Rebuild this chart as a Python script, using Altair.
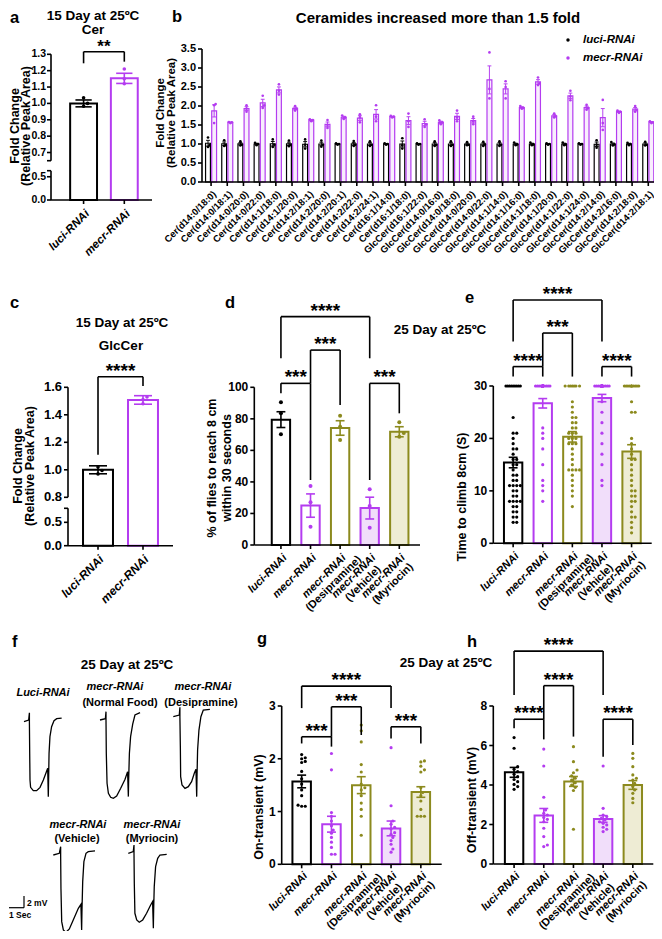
import altair as alt
import pandas as pd

# ---------------- values ----------------
A_GROUPS = ["luci-RNAi", "mecr-RNAi"]
A_MEAN = [1.000, 1.153]
A_SEM = [0.021, 0.031]
A_POINTS = [[1.034, 1.000, 0.983], [1.210, 1.150, 1.120]]

C_GROUPS = ["luci-RNAi", "mecr-RNAi"]
C_MEAN = [1.000, 1.508]
C_SEM = [0.029, 0.031]
C_POINTS = [[1.020, 0.995, 0.970], [1.530, 1.510, 1.480]]

B_LIPIDS = [
    "Cer(d14:0/18:0)", "Cer(d14:0/18:1)", "Cer(d14:0/20:0)", "Cer(d14:0/22:0)",
    "Cer(d14:1/18:0)", "Cer(d14:1/20:0)", "Cer(d14:2/18:1)", "Cer(d14:2/20:0)",
    "Cer(d14:2/20:1)", "Cer(d14:2/22:0)", "Cer(d14:2/24:1)", "Cer(d16:1/14:0)",
    "Cer(d16:1/18:0)", "GlcCer(d16:1/22:0)", "GlcCer(d14:0/16:0)", "GlcCer(d14:0/18:0)",
    "GlcCer(d14:0/20:0)", "GlcCer(d14:0/22:0)", "GlcCer(d14:1/14:0)", "GlcCer(d14:1/16:0)",
    "GlcCer(d14:1/18:0)", "GlcCer(d14:1/20:0)", "GlcCer(d14:1/22:0)", "GlcCer(d14:1/24:0)",
    "GlcCer(d14:2/14:0)", "GlcCer(d14:2/16:0)", "GlcCer(d14:2/18:0)", "GlcCer(d14:2/18:1)",
]
B_SERIES = ["luci-RNAi", "mecr-RNAi"]
B_LUCI = [
    [1.17, 0.97, 0.92], [1.10, 0.97, 0.95], [1.07, 0.98, 0.96], [1.03, 1.00, 0.97],
    [1.12, 0.98, 0.92], [1.09, 0.98, 0.94], [1.12, 0.98, 0.88], [1.09, 0.98, 0.93],
    [1.02, 1.00, 0.98], [1.08, 0.98, 0.95], [1.07, 0.98, 0.95], [1.02, 1.00, 0.98],
    [1.15, 0.97, 0.88], [1.02, 1.00, 0.98], [1.07, 0.98, 0.95], [1.07, 0.98, 0.95],
    [1.05, 0.98, 0.97], [1.06, 0.99, 0.95], [1.07, 0.98, 0.95], [1.04, 0.99, 0.97],
    [1.04, 0.99, 0.97], [1.02, 1.00, 0.98], [1.04, 0.99, 0.97], [1.02, 1.00, 0.98],
    [1.10, 0.98, 0.90], [1.05, 0.99, 0.96], [1.03, 1.00, 0.97], [1.06, 0.98, 0.96],
]
B_MECR = [
    [2.05, 2.02, 1.55], [1.58, 1.57, 1.55], [2.02, 1.93, 1.85], [2.27, 2.02, 1.95],
    [2.57, 2.40, 2.30], [2.00, 1.93, 1.88], [1.65, 1.63, 1.60], [1.63, 1.50, 1.42],
    [1.75, 1.70, 1.66], [1.78, 1.70, 1.57], [2.02, 1.72, 1.60], [1.74, 1.72, 1.70],
    [1.80, 1.60, 1.45], [1.65, 1.52, 1.45], [1.62, 1.57, 1.52], [1.88, 1.70, 1.60],
    [1.72, 1.60, 1.52], [3.41, 2.45, 2.20], [2.65, 2.50, 2.20], [2.00, 1.95, 1.93],
    [2.75, 2.60, 2.55], [1.80, 1.73, 1.70], [2.40, 2.25, 2.15], [2.03, 1.95, 1.90],
    [2.16, 1.55, 1.37], [1.88, 1.85, 1.82], [2.00, 1.90, 1.85], [1.60, 1.57, 1.55],
]

TREAT_LINE1 = ["luci-RNAi", "mecr-RNAi", "mecr-RNAi", "mecr-RNAi", "mecr-RNAi"]
TREAT_LINE2 = ["", "", "(Desipramine)", "(Vehicle)", "(Myriocin)"]

D_MEAN = [79.5, 25.0, 74.2, 23.4, 71.8]
D_SEM = [5.0, 7.4, 4.6, 6.9, 3.2]
D_POINTS = [[90.5, 83.5, 70.2], [37.4, 27.1, 11.6], [82.0, 75.0, 66.6],
            [35.3, 24.7, 11.0], [77.8, 71.0, 68.7]]
D_COMPARE = [(0, 3, "****"), (1, 2, "***"), (0, 1, "***"), (3, 4, "***")]

E_MEAN = [15.4, 26.7, 20.3, 27.7, 17.5]
E_SEM = [1.0, 0.9, 1.0, 0.7, 1.3]
E_POINTS = [
    [30, 30, 30, 30, 30, 30, 30, 30, 30, 24, 21, 21, 20, 19, 18, 18, 17, 16, 16, 15, 15,
     14, 13, 13, 12, 12, 11, 11, 11, 11, 10, 10, 9, 9, 8, 8, 8, 8, 7, 7, 6, 6, 5, 5, 4, 4],
    [30, 30, 30, 30, 30, 30, 30, 30, 30, 30, 30, 30, 30, 30, 30, 30, 30, 30, 30, 30, 30,
     30, 30, 30, 30, 30, 30, 30, 30, 30, 30, 22, 21, 20, 18, 15, 12, 11, 10, 8],
    [30, 30, 30, 30, 30, 30, 30, 27, 26, 25, 24, 24, 23, 23, 22, 22, 21, 21, 21, 20, 20,
     20, 19, 19, 19, 18, 17, 16, 15, 14, 14, 14, 14, 13, 12, 11, 10, 9, 7],
    [30, 30, 30, 30, 30, 30, 30, 30, 30, 30, 30, 30, 30, 30, 30, 30, 30, 30, 30, 30, 30,
     30, 30, 30, 30, 30, 30, 30, 30, 30, 30, 30, 30, 30, 27, 25, 23, 21, 19, 17, 15, 12, 11],
    [30, 30, 30, 30, 30, 30, 30, 30, 30, 30, 30, 27, 25, 25, 20, 19, 18, 17, 16, 16, 15,
     14, 13, 12, 11, 10, 10, 9, 9, 8, 8, 7, 6, 5, 5, 4, 3, 2],
]
E_COMPARE = [(0, 3, "****"), (1, 2, "***"), (0, 1, "****"), (3, 4, "****")]

G_MEAN = [1.57, 0.76, 1.50, 0.68, 1.37]
G_SEM = [0.12, 0.15, 0.16, 0.14, 0.10]
G_POINTS = [
    [2.08, 2.02, 2.00, 1.95, 1.93, 1.76, 1.62, 1.52, 1.41, 1.30, 1.12, 1.10, 1.10],
    [2.10, 1.79, 0.98, 0.91, 0.82, 0.73, 0.65, 0.59, 0.51, 0.42, 0.32, 0.19, 0.19],
    [2.64, 2.53, 2.32, 1.89, 1.75, 1.52, 1.45, 1.41, 1.30, 1.16, 1.04, 0.91, 0.55],
    [2.21, 1.11, 0.82, 0.76, 0.70, 0.67, 0.60, 0.57, 0.51, 0.45, 0.38, 0.29, 0.23],
    [1.96, 1.94, 1.86, 1.79, 1.75, 1.45, 1.36, 1.30, 1.20, 1.04, 0.91, 0.91, 0.91],
]
G_COMPARE = [(0, 3, "****"), (1, 2, "***"), (0, 1, "***"), (3, 4, "***")]

H_MEAN = [4.64, 2.46, 4.18, 2.28, 4.00]
H_SEM = [0.25, 0.35, 0.25, 0.17, 0.22]
H_POINTS = [
    [6.40, 5.86, 4.93, 4.80, 4.68, 4.55, 4.42, 4.28, 4.17, 4.03, 3.92, 3.78],
    [5.82, 4.96, 3.38, 2.74, 2.57, 2.48, 2.36, 2.26, 2.14, 1.81, 1.39, 0.96, 0.88],
    [5.94, 5.18, 4.76, 4.62, 4.46, 4.34, 4.25, 4.12, 4.00, 3.88, 3.72, 1.76],
    [4.96, 2.82, 2.48, 2.40, 2.31, 2.23, 2.14, 2.06, 1.98, 1.86, 1.76, 1.64],
    [5.60, 5.35, 4.93, 4.51, 4.34, 4.25, 4.08, 3.92, 3.75, 3.58, 3.32, 3.10],
]
H_COMPARE = [(0, 3, "****"), (1, 2, "****"), (0, 1, "****"), (3, 4, "****")]

# ERG traces (time in s, voltage in mV)
F_T = [
    [0, .31, .36, .36, .38, .40, .44, .62, .84, 1.07, 1.29, 1.47, 1.58, 1.62, 1.64, 1.67, 1.73, 1.84, 2.0, 2.18, 2.51],
    [0, .36, .40, .40, .42, .47, .56, .71, .89, 1.11, 1.38, 1.67, 1.84, 1.89, 1.91, 1.96, 2.04, 2.18, 2.33, 2.67],
    [0, .40, .44, .44, .47, .49, .58, .78, 1.0, 1.22, 1.40, 1.51, 1.56, 1.58, 1.62, 1.71, 1.84, 2.0, 2.44],
    [0, .40, .49, .49, .51, .56, .67, .84, 1.07, 1.33, 1.67, 1.84, 1.89, 1.91, 1.96, 2.04, 2.18, 2.33, 2.78],
    [0, .33, .38, .38, .40, .44, .56, .73, .96, 1.22, 1.49, 1.62, 1.67, 1.69, 1.73, 1.82, 1.96, 2.11, 2.56],
]
F_V = [
    [0, .29, 1.54, 0, -5.43, -10.0, -11.26, -11.83, -11.83, -11.26, -10.0, -8.74, -8.0, -12.86, -10.0, -5.43, -2.57, -0.86, 0.17, 0.51, 0.63],
    [0, .23, 1.43, 0, -5.71, -10.86, -12.57, -13.26, -13.43, -13.03, -11.71, -10.17, -8.86, -13.14, -10.29, -5.71, -2.86, -0.69, 0.86, 1.26],
    [0, .29, 1.6, 0, -5.14, -10.29, -11.71, -12.29, -12.0, -11.14, -9.71, -9.03, -13.71, -10.29, -5.71, -2.29, 0, 1.14, 1.26],
    [0, .29, 1.43, 0, -5.71, -11.43, -12.86, -13.26, -12.69, -11.14, -9.14, -8.46, -12.86, -9.71, -4.57, -1.14, .29, .57, .69],
    [0, .29, 1.43, 0, -5.14, -10.29, -11.43, -11.83, -11.43, -10.29, -8.86, -8.29, -12.86, -9.71, -5.71, -2.29, -0.86, -0.29, -0.17],
]
F_SCALEBAR_S, F_SCALEBAR_MV = 1, 2

# ---------------- style / layout ----------------
FONT = "Liberation Sans"
BLACK, PURPLE, OLIVE = "#000000", "#B43CF0", "#8C8A1E"
LAV, LOLIVE, BFILL, WHITE = "#F1DEFA", "#EEECD4", "#F8EEFD", "#FFFFFF"
W, H, M = 646, 923, 8
T_STROKE = [BLACK, PURPLE, OLIVE, PURPLE, OLIVE]
T_FILL = [WHITE, WHITE, WHITE, LAV, LOLIVE]


def P(v):
    return v - M


def lin(domain, rng):
    s = alt.Scale(domain=list(domain), range=[P(r) for r in rng], nice=False, zero=False)
    ppu = abs(rng[-1] - rng[-2]) / abs(domain[-1] - domain[-2])
    return s, ppu


def X(f, xs):
    return alt.X(f, scale=xs, axis=None)


def Y(f, ys):
    return alt.Y(f, scale=ys, axis=None)


def axes_layers(xs, ys, xdom, ysegs, yticks, ylabels, xticks, ysize=12, tick=5, ldx=-7, sw=1.6):
    xa, xe = xdom
    ya = ysegs[0][0]
    out = []
    seg = pd.DataFrame({"xa": [xa] * len(ysegs), "y0": [s[0] for s in ysegs],
                        "y1": [s[1] for s in ysegs]})
    out.append(alt.Chart(seg).mark_rule(color=BLACK, strokeWidth=sw).encode(
        x=X("xa:Q", xs), y=Y("y0:Q", ys), y2="y1"))
    yt = pd.DataFrame({"xa": [xa] * len(yticks), "v": yticks, "lab": ylabels})
    out.append(alt.Chart(yt).mark_rule(color=BLACK, strokeWidth=sw, x2Offset=-tick).encode(
        x=X("xa:Q", xs), x2="xa", y=Y("v:Q", ys)))
    out.append(alt.Chart(yt).mark_text(font=FONT, fontSize=ysize, fontWeight="bold", align="right",
                                       baseline="middle", dx=ldx, color=BLACK).encode(
        x=X("xa:Q", xs), y=Y("v:Q", ys), text="lab:N"))
    xl = pd.DataFrame({"x0": [xa], "x1": [xe], "ya": [ya]})
    out.append(alt.Chart(xl).mark_rule(color=BLACK, strokeWidth=sw).encode(
        x=X("x0:Q", xs), x2="x1", y=Y("ya:Q", ys)))
    xt = pd.DataFrame({"c": xticks, "ya": [ya] * len(xticks)})
    out.append(alt.Chart(xt).mark_rule(color=BLACK, strokeWidth=sw, y2Offset=tick).encode(
        x=X("c:Q", xs), y=Y("ya:Q", ys), y2="ya"))
    return out


def swarm(vals, ppy, dot, maxw):
    order = sorted(range(len(vals)), key=lambda k: vals[k])
    step = dot / 2.0
    cands = [0.0]
    for s in range(1, int(maxw // step) + 1):
        cands += [s * step, -s * step]
    placed, res = [], [0.0] * len(vals)
    for k in order:
        y = vals[k] * ppy
        best, bestd = 0.0, -1.0
        for c in cands:
            d = min([((c - px) ** 2 + (y - py) ** 2) ** 0.5 for py, px in placed] or [1e9])
            if d >= dot:
                best = c
                break
            if d > bestd:
                best, bestd = c, d
        placed.append((y, best))
        res[k] = best
    return res


def bar_layers(pos, means, sems, points, strokes, fills, xs, ppx, ys, ppy,
               half, cap, dot, maxw, sw, psize):
    bars = pd.DataFrame({"c": pos, "m": means, "s": sems, "st": strokes, "fi": fills})
    bars["x0"] = bars.c - half
    bars["x1"] = bars.c + half
    bars["z"] = 0.0
    bars["lo"] = bars.m - bars.s
    bars["hi"] = bars.m + bars.s
    bars["k0"] = bars.c - cap
    bars["k1"] = bars.c + cap
    rows = []
    for c, vals, st in zip(pos, points, strokes):
        for v, o in zip(vals, swarm(vals, ppy, dot, maxw)):
            rows.append({"px": c + o / ppx, "v": v, "st": st})
    pts = pd.DataFrame(rows)
    col = alt.Color("st:N", scale=None)
    rect = alt.Chart(bars).mark_rect(strokeWidth=sw).encode(
        x=X("x0:Q", xs), x2="x1", y=Y("m:Q", ys), y2="z",
        fill=alt.Fill("fi:N", scale=None), stroke=alt.Stroke("st:N", scale=None))
    dots = alt.Chart(pts).mark_circle(size=psize, opacity=1).encode(
        x=X("px:Q", xs), y=Y("v:Q", ys), color=col)
    err = alt.Chart(bars).mark_rule(strokeWidth=sw * 0.8).encode(
        x=X("c:Q", xs), y=Y("lo:Q", ys), y2="hi", color=col)
    caps = [alt.Chart(bars).mark_rule(strokeWidth=sw * 0.8).encode(
        x=X("k0:Q", xs), x2="k1", y=Y(f + ":Q", ys), color=col) for f in ("lo", "hi")]
    return [rect, dots, err] + caps


def bracket_layers(comps, levels, xs, ys, size=19, sw=1.6):
    rows = []
    for (i, j, s), (lv, li, lj) in zip(comps, levels):
        rows.append({"a": i, "b": j, "mid": (i + j) / 2, "lv": lv, "li": li, "lj": lj, "s": s})
    base = alt.Chart(pd.DataFrame(rows))
    r = dict(color=BLACK, strokeWidth=sw)
    return [
        base.mark_rule(**r).encode(x=X("a:Q", xs), x2="b", y=Y("lv:Q", ys)),
        base.mark_rule(**r).encode(x=X("a:Q", xs), y=Y("lv:Q", ys), y2="li"),
        base.mark_rule(**r).encode(x=X("b:Q", xs), y=Y("lv:Q", ys), y2="lj"),
        base.mark_text(font=FONT, fontSize=size, fontWeight="bold", baseline="alphabetic",
                       color=BLACK).encode(x=X("mid:Q", xs), y=Y("lv:Q", ys), text="s:N"),
    ]


def tick_labels(line1, line2, xs, y_ref, size=11.5, w1=54, italic=True):
    df = pd.DataFrame({"c": list(range(len(line1))), "l1": line1, "l2": line2})
    base = alt.Chart(df).encode(x=X("c:Q", xs), y=alt.value(P(y_ref)))
    st = dict(font=FONT, fontSize=size, fontWeight="bold", color=BLACK, angle=315, baseline="top")
    out = [base.mark_text(fontStyle="italic" if italic else "normal", align="right", **st)
           .encode(text="l1:N")]
    if any(line2):
        out.append(base.mark_text(align="center", dx=-w1 / 2, dy=size + 1, **st).encode(text="l2:N"))
    return out


def texts(items, size=13, italic=False, angle=0, align="center", baseline="middle"):
    df = pd.DataFrame(items, columns=["t", "x", "y"])
    df["x"] = df.x - M
    df["y"] = df.y - M
    return alt.Chart(df).mark_text(
        font=FONT, fontSize=size, fontWeight="bold", fontStyle="italic" if italic else "normal",
        angle=angle, align=align, baseline=baseline, color=BLACK).encode(
        x=alt.X("x:Q", scale=None, axis=None), y=alt.Y("y:Q", scale=None, axis=None), text="t:N")


def fmt(vals, f):
    return [format(v, f) for v in vals]


layers = []

# ---------------- panel a ----------------
xdom = [-0.8, 1.68]
xs, ppx = lin(xdom, [51, 152])
ys, ppy = lin([0, 0.63, 0.65, 1.3], [200, 170.7, 160.7, 54.3])
ya_ticks = [0, 0.5, 0.63, 0.65, 0.7, 0.8, 0.9, 1.0, 1.1, 1.2, 1.3]
ya_labels = ["" if v in (0.63, 0.65) else format(v, ".1f") for v in ya_ticks]
pa = bar_layers([0, 1], A_MEAN, A_SEM, A_POINTS, [BLACK, PURPLE], [WHITE, WHITE], xs, ppx, ys, ppy,
                0.33, 0.2, 4, 8, 2, 13)
pa += axes_layers(xs, ys, xdom, [(0, 0.63), (0.65, 1.3)], ya_ticks, ya_labels, [0, 1],
                  ysize=10.5, tick=4, ldx=-5)
pa += bracket_layers([(0, 1, "**")], [(1.316, 1.245, 1.255)], xs, ys, size=17)
pa += tick_labels(A_GROUPS, ["", ""], xs, 208)
layers.append(alt.layer(*pa))

# ---------------- panel b ----------------
nb = len(B_LIPIDS)
xdom = [-0.56, 27.6]
xs, ppx = lin(xdom, [202, 658])
ys, ppy = lin([0, 3.5], [182, 49])
b_pts = B_LUCI + B_MECR
b_mean = [sum(p) / len(p) for p in b_pts]
b_sem = [(sum((v - m) ** 2 for v in p) / (len(p) - 1)) ** 0.5 / len(p) ** 0.5
         for p, m in zip(b_pts, b_mean)]
b_pos = [i - 0.19 for i in range(nb)] + [i + 0.19 for i in range(nb)]
pb = bar_layers(b_pos, b_mean, b_sem, b_pts, [BLACK] * nb + [PURPLE] * nb,
                [WHITE] * nb + [BFILL] * nb, xs, ppx, ys, ppy, 0.15, 0.12, 3, 2.5, 1.2, 7)
yb_ticks = [0, 0.5, 1.0, 1.5, 2.0, 2.5, 3.0, 3.5]
pb += axes_layers(xs, ys, xdom, [(0, 3.5)], yb_ticks, fmt(yb_ticks, ".1f"), list(range(nb)),
                  ysize=11, tick=4, ldx=-6)
pb += tick_labels(B_LIPIDS, [""] * nb, xs, 189, size=9.5, italic=False)
layers.append(alt.layer(*pb))
leg = pd.DataFrame({"t": B_SERIES, "col": [BLACK, PURPLE]})
leg["x"] = P(568)
leg["y"] = [P(40), P(58)]
layers.append(alt.Chart(leg).mark_circle(size=12, opacity=1).encode(
    x=alt.X("x:Q", scale=None, axis=None), y=alt.Y("y:Q", scale=None, axis=None),
    color=alt.Color("col:N", scale=None)))
layers.append(texts([(B_SERIES[0], 583, 40), (B_SERIES[1], 583, 58)], size=11.5, italic=True,
                    align="left"))

# ---------------- panel c ----------------
xdom = [-0.667, 1.667]
xs, ppx = lin(xdom, [68, 173])
ys, ppy = lin([0, 0.7999, 0.8, 1.6], [545.7, 508.3, 497.3, 387.3])
yc_ticks = [0, 0.5, 0.7999, 0.8, 1.0, 1.2, 1.4, 1.6]
yc_labels = ["" if v == 0.7999 else format(v, ".1f") for v in yc_ticks]
pc = bar_layers([0, 1], C_MEAN, C_SEM, C_POINTS, [BLACK, PURPLE], [WHITE, WHITE], xs, ppx, ys, ppy,
                0.333, 0.2, 4, 8, 2, 13)
pc += axes_layers(xs, ys, xdom, [(0, 0.7999), (0.8, 1.6)], yc_ticks, yc_labels, [0, 1],
                  ysize=13, tick=4, ldx=-6)
pc += bracket_layers([(0, 1, "****")], [(1.677, 1.109, 1.61)], xs, ys)
pc += tick_labels(C_GROUPS, ["", ""], xs, 553.7, size=12)
layers.append(alt.layer(*pc))

# ---------------- panels d, e, g, h ----------------
treat_panels = [
    # (xdom, xrange, ydom, yrange, mean, sem, points, yticks, compare, levels, dot, maxw, psize, label_y)
    ([-0.9, 4.7], [254.3, 420], [0, 100], [545, 387.3], D_MEAN, D_SEM, D_POINTS,
     [0, 20, 40, 60, 80, 100], D_COMPARE,
     [(144.8, 118.4, 118.4), (123.6, 102.5, 88.8), (102.5, 96.2, 41.2), (102.5, 41.2, 83.5)],
     4.5, 8, 16, 552),
    ([-0.67, 4.68], [493.3, 651.7], [0, 30], [543.3, 386], E_MEAN, E_SEM, E_POINTS,
     [0, 10, 20, 30], E_COMPARE,
     [(46.4, 38.5, 38.5), (40.1, 33.7, 31.8), (33.7, 31.8, 31.8), (33.7, 31.8, 31.8)],
     3.6, 9, 10, 550.3),
    ([-0.67, 4.7], [281.7, 441.7], [0, 3], [864.3, 706], G_MEAN, G_SEM, G_POINTS,
     [0, 1, 2, 3], G_COMPARE,
     [(3.377, 2.96, 2.96), (2.985, 2.417, 2.45), (2.417, 2.29, 2.23), (2.606, 2.386, 2.29)],
     3.6, 8, 10, 870),
    ([-0.7, 4.69], [493.3, 653.3], [0, 8], [864, 706], H_MEAN, H_SEM, H_POINTS,
     [0, 2, 4, 6, 8], H_COMPARE,
     [(10.78, 8.56, 8.56), (9.03, 7.33, 6.45), (7.33, 6.87, 6.31), (7.33, 5.43, 6.03)],
     3.6, 8, 10, 870),
]
for (xdom, xr, ydom, yr, mean, sem, pts, yt, comp, lev, dot, maxw, psize, ly) in treat_panels:
    xs, ppx = lin(xdom, xr)
    ys, ppy = lin(ydom, yr)
    pl = bar_layers(list(range(5)), mean, sem, pts, T_STROKE, T_FILL, xs, ppx, ys, ppy,
                    0.31, 0.15, dot, maxw, 2, psize)
    pl += axes_layers(xs, ys, xdom, [tuple(ydom)], yt, [str(v) for v in yt], list(range(5)),
                      tick=4, ldx=-6)
    pl += bracket_layers(comp, lev, xs, ys)
    pl += tick_labels(TREAT_LINE1, TREAT_LINE2, xs, ly, size=11)
    layers.append(alt.layer(*pl))

# ---------------- panel f (ERG traces) ----------------
PX_S, PX_MV = 15.0, 5.83
origins = [(24, 721.7), (100, 720), (173.3, 716.7), (53.3, 855), (128.3, 853.3)]
for t, v, (x0, y0) in zip(F_T, F_V, origins):
    df = pd.DataFrame({"k": list(range(len(t))), "t": t, "v": v})
    sx = alt.Scale(domain=[0, 3], range=[P(x0), P(x0) + 3 * PX_S], nice=False, zero=False)
    sy = alt.Scale(domain=[-14, 2], range=[P(y0) + 14 * PX_MV, P(y0) - 2 * PX_MV], nice=False,
                   zero=False)
    layers.append(alt.Chart(df).mark_line(color=BLACK, strokeWidth=1.3).encode(
        x=alt.X("t:Q", scale=sx, axis=None), y=alt.Y("v:Q", scale=sy, axis=None), order="k:Q"))
sb = pd.DataFrame({"t": [0, F_SCALEBAR_S], "t2": [F_SCALEBAR_S, F_SCALEBAR_S],
                   "v": [0, 0], "v2": [0, F_SCALEBAR_MV]})
sx = alt.Scale(domain=[0, 1], range=[P(9), P(9) + PX_S], nice=False, zero=False)
sy = alt.Scale(domain=[0, 2], range=[P(907.7), P(907.7) - 2 * PX_MV], nice=False, zero=False)
layers.append(alt.Chart(sb).mark_rule(color=BLACK, strokeWidth=1.2).encode(
    x=alt.X("t:Q", scale=sx, axis=None), x2="t2", y=alt.Y("v:Q", scale=sy, axis=None), y2="v2"))

# ---------------- text annotations ----------------
layers.append(texts([("15 Day at 25ºC", 93, 16), ("Cer", 93, 30),
                     ("15 Day at 25ºC", 122, 323), ("GlcCer", 121, 346),
                     ("25 Day at 25ºC", 440, 330), ("25 Day at 25ºC", 127, 665),
                     ("25 Day at 25ºC", 446, 663)], size=13.5))
layers.append(texts([("Ceramides increased more than 1.5 fold", 438, 18)], size=15))
layers.append(texts([("Fold Change", 14.5, 126), ("(Relative Peak Area)", 25.5, 126),
                     ("Fold Change", 17.5, 466), ("(Relative Peak Area)", 30, 466),
                     ("% of flies to reach 8 cm", 212, 468), ("within 30 seconds", 227, 468),
                     ("Time to climb 8cm (S)", 462, 497), ("On-transient (mV)", 259, 807),
                     ("Off-transient (mV)", 472, 800)], size=12.5, angle=270))
layers.append(texts([("Fold Change", 161, 113), ("(Relative Peak Area)", 172, 113)],
                    size=11.5, angle=270))
layers.append(texts([("a", 10, 23), ("b", 172, 22), ("c", 10, 308), ("d", 225, 308),
                     ("e", 465, 303), ("f", 12, 647), ("g", 257, 644), ("h", 467, 647)],
                    size=16.5, align="left", baseline="alphabetic"))
layers.append(texts([("Luci-RNAi", 43, 693), ("mecr-RNAi", 115, 687), ("mecr-RNAi", 203, 687),
                     ("mecr-RNAi", 78, 825), ("mecr-RNAi", 152, 825)], size=11, italic=True))
layers.append(texts([("(Normal Food)", 120, 702.5), ("(Desipramine)", 201, 702.5),
                     ("(Vehicle)", 77, 838.5), ("(Myriocin)", 152, 838.5)], size=11))
layers.append(texts([("2 mV", 27, 903), ("1 Sec", 9, 915)], size=8.5, align="left"))

chart = alt.layer(*layers).resolve_scale(x="independent", y="independent").properties(
    width=W, height=H, autosize=alt.AutoSizeParams(type="none"), padding=0
).configure_view(stroke=None)

chart.save("out.html", embed_options={"renderer": "svg", "actions": False})
